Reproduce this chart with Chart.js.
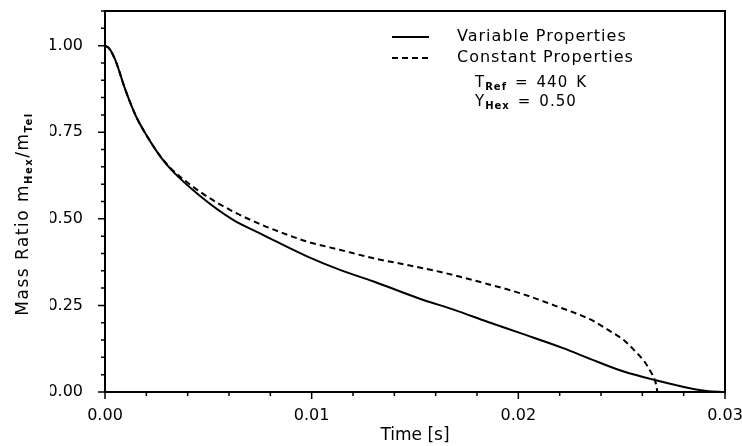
<!DOCTYPE html>
<html>
<head>
<meta charset="utf-8">
<script src="https://cdn.jsdelivr.net/npm/chart.js@4/dist/chart.umd.min.js"></script>
<style>
html, body { margin: 0; padding: 0; background: #fff; }
#wrap { width: 742px; height: 446px; position: relative; }
</style>
</head>
<body>
<div id="wrap"><canvas id="chart"></canvas></div>
<script>
// values
const timeVariable = [0, 0.0002, 0.0005, 0.001, 0.0015, 0.002, 0.0027, 0.0032, 0.0046, 0.0062, 0.0075, 0.0082, 0.0098, 0.0114, 0.013, 0.0152, 0.0169, 0.0185, 0.0201, 0.0222, 0.0235, 0.0251, 0.0267, 0.0283, 0.0291, 0.03];
const massVariable = [1.0, 0.992, 0.958, 0.87, 0.796, 0.742, 0.678, 0.642, 0.566, 0.497, 0.458, 0.437, 0.391, 0.352, 0.319, 0.27, 0.237, 0.203, 0.17, 0.126, 0.095, 0.059, 0.033, 0.011, 0.003, 0];
const timeConstant = [0, 0.0002, 0.0005, 0.001, 0.0015, 0.002, 0.0027, 0.0032, 0.0046, 0.0062, 0.0075, 0.0082, 0.0098, 0.0114, 0.013, 0.0146, 0.0162, 0.0185, 0.0201, 0.0217, 0.0236, 0.0244, 0.0251, 0.0256, 0.0261, 0.0264, 0.0266, 0.0267, 0.02672];
const massConstant = [1.0, 0.992, 0.958, 0.87, 0.796, 0.742, 0.679, 0.645, 0.578, 0.521, 0.485, 0.468, 0.434, 0.41, 0.386, 0.367, 0.347, 0.312, 0.285, 0.251, 0.206, 0.177, 0.15, 0.121, 0.088, 0.059, 0.035, 0.011, 0];
const seriesLabels = [`Variable Properties`, `Constant Properties`];
const xTickLabels = [0, 0.01, 0.02, 0.03];
const yTickLabels = [0, 0.25, 0.5, 0.75, 1.0];

const FONT = `"DejaVu Sans", sans-serif`;
const toPoints = (xs, ys) => xs.map((x, i) => ({ x, y: ys[i] }));
const isMajor = (list, v) => list.some(m => Math.abs(m - v) < 1e-9);

// text pieces in a row: [text, isSubscript, gapBefore]
function richWidth(ctx, parts, size, subSize) {
    let w = 0;
    parts.forEach(([text, sub, gap = 0]) => {
        ctx.font = sub ? `bold ${subSize}px ${FONT}` : `${size}px ${FONT}`;
        w += gap + ctx.measureText(text).width;
    });
    return w;
}
function drawRich(ctx, parts, x, y, size, subSize) {
    let cx = x;
    parts.forEach(([text, sub, gap = 0]) => {
        ctx.font = sub ? `bold ${subSize}px ${FONT}` : `${size}px ${FONT}`;
        cx += gap;
        ctx.fillText(text, cx, sub ? y + size * 0.3 : y);
        cx += ctx.measureText(text).width;
    });
}

const framePlugin = {
    id: `frame`,
    afterDraw(chart) {
        const { ctx, chartArea: a } = chart;
        const xs = chart.scales.x, ys = chart.scales.y;
        ctx.save();
        ctx.strokeStyle = `#000`;
        ctx.lineWidth = 2;
        ctx.strokeRect(a.left, a.top, a.right - a.left, a.bottom - a.top);
        ctx.lineWidth = 1.5;
        ctx.beginPath();
        xs.ticks.forEach(t => {
            const px = xs.getPixelForValue(t.value);
            ctx.moveTo(px, a.bottom);
            ctx.lineTo(px, a.bottom + (isMajor(xTickLabels, t.value) ? 7 : 4));
        });
        ys.ticks.forEach(t => {
            const py = ys.getPixelForValue(t.value);
            ctx.moveTo(a.left, py);
            ctx.lineTo(a.left - (isMajor(yTickLabels, t.value) ? 7 : 4), py);
        });
        ctx.stroke();

        // legend
        ctx.letterSpacing = `1px`;
        ctx.fillStyle = `#000`;
        ctx.textBaseline = `middle`;
        ctx.textAlign = `left`;
        chart.data.datasets.forEach((ds, i) => {
            const y = 37 + i * 21;
            ctx.lineWidth = ds.borderWidth;
            ctx.setLineDash(ds.borderDash || []);
            ctx.beginPath();
            ctx.moveTo(392, y);
            ctx.lineTo(429, y);
            ctx.stroke();
            ctx.setLineDash([]);
            ctx.font = `16px ${FONT}`;
            ctx.fillText(ds.label, 457, y);
        });
        drawRich(ctx, [[`T`, false], [`Ref`, true], [`=`, false, 8], [`440`, false, 8], [`K`, false, 8]], 475, 83, 15, 10);
        drawRich(ctx, [[`Y`, false], [`Hex`, true], [`=`, false, 8], [`0.50`, false, 8]], 475, 102, 15, 10);

        // y axis title
        ctx.letterSpacing = `1.5px`;
        const title = [[`Mass Ratio m`, false], [`Hex`, true], [`/m`, false], [`Tel`, true]];
        const w = richWidth(ctx, title, 17, 10);
        ctx.translate(24, 214);
        ctx.rotate(-Math.PI / 2);
        drawRich(ctx, title, -w / 2, 0, 17, 10);
        ctx.restore();
    }
};

new Chart(document.getElementById(`chart`), {
    type: `line`,
    data: {
        datasets: [
            {
                label: seriesLabels[0],
                data: toPoints(timeVariable, massVariable),
                borderColor: `#000`,
                borderWidth: 2,
                pointRadius: 0,
                cubicInterpolationMode: `monotone`
            },
            {
                label: seriesLabels[1],
                data: toPoints(timeConstant, massConstant),
                borderColor: `#000`,
                borderWidth: 2,
                borderDash: [6, 4],
                pointRadius: 0,
                cubicInterpolationMode: `monotone`
            }
        ]
    },
    options: {
        animation: false,
        responsive: true,
        maintainAspectRatio: false,
        layout: { padding: { left: 50, top: 11, right: 17, bottom: 0 } },
        plugins: {
            legend: { display: false },
            tooltip: { enabled: false }
        },
        scales: {
            x: {
                type: `linear`,
                min: 0,
                max: 0.03,
                grid: { display: true, drawOnChartArea: false, drawTicks: true, tickLength: 8, tickColor: `rgba(0,0,0,0)` },
                border: { display: false },
                ticks: {
                    stepSize: 0.002,
                    autoSkip: false,
                    maxRotation: 0,
                    minRotation: 0,
                    padding: 6,
                    color: `#000`,
                    font: { family: FONT, size: 16 },
                    callback: v => isMajor(xTickLabels, v) ? v.toFixed(2) : ``
                },
                title: {
                    display: true,
                    text: `Time [s]`,
                    color: `#000`,
                    font: { family: FONT, size: 17 },
                    padding: { top: 0, bottom: 0 }
                },
                afterFit: scale => {
                    scale.height = 54;
                    scale.paddingLeft = 0;
                    scale.paddingRight = 0;
                }
            },
            y: {
                min: 0,
                max: 1.1,
                grid: { display: true, drawOnChartArea: false, drawTicks: true, tickLength: 8, tickColor: `rgba(0,0,0,0)` },
                border: { display: false },
                ticks: {
                    stepSize: 0.05,
                    autoSkip: false,
                    padding: 14,
                    color: `#000`,
                    font: { family: FONT, size: 16 },
                    callback: v => isMajor(yTickLabels, v) ? v.toFixed(2) : ``
                },
                afterFit: scale => {
                    scale.width = 55;
                    scale.paddingTop = 0;
                    scale.paddingBottom = 0;
                }
            }
        }
    },
    plugins: [framePlugin]
});
</script>
</body>
</html>
